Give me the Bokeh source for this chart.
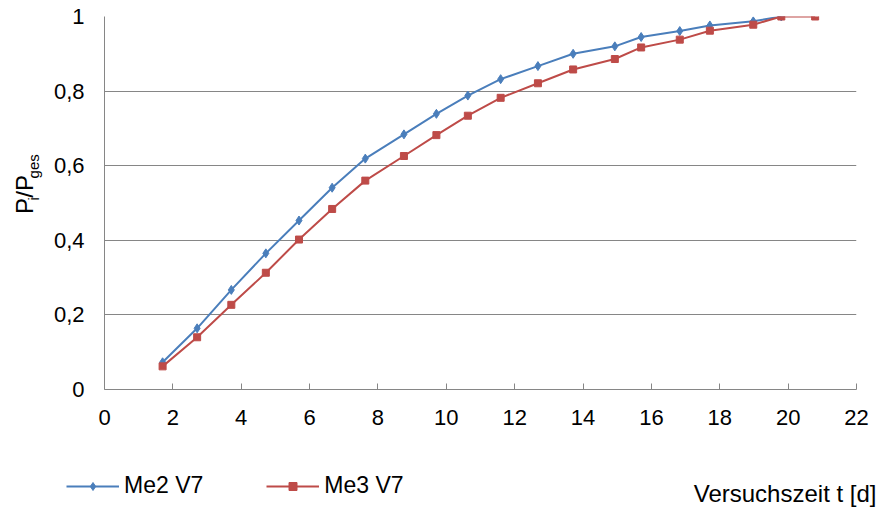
from math import pi
from bokeh.plotting import figure
from bokeh.layouts import row, column
from bokeh.models import (Range1d, FixedTicker, CustomJSTickFormatter, Label,
                          Legend, LegendItem, ColumnDataSource)
from bokeh.embed import file_html
from bokeh.resources import INLINE

# ---- data ----
t_me2 = [1.70, 2.71, 3.71, 4.72, 5.69, 6.66, 7.63, 8.76, 9.71, 10.63,
         11.59, 12.68, 13.71, 14.93, 15.70, 16.83, 17.71, 18.98, 19.80]
p_me2 = [0.073, 0.164, 0.267, 0.365, 0.453, 0.541, 0.619, 0.684, 0.739, 0.788,
         0.832, 0.867, 0.900, 0.920, 0.945, 0.961, 0.976, 0.987, 1.0]
t_me3 = [1.70, 2.71, 3.71, 4.72, 5.69, 6.66, 7.63, 8.76, 9.71, 10.63,
         11.59, 12.68, 13.71, 14.93, 15.70, 16.83, 17.71, 18.98, 19.80, 20.79]
p_me3 = [0.062, 0.140, 0.227, 0.313, 0.402, 0.484, 0.560, 0.626, 0.682, 0.734,
         0.782, 0.821, 0.858, 0.886, 0.917, 0.938, 0.962, 0.978, 1.0, 1.0]
series_names = ["Me2 V7", "Me3 V7"]
x_ticks = [0, 2, 4, 6, 8, 10, 12, 14, 16, 18, 20, 22]
y_ticks = [0, 0.2, 0.4, 0.6, 0.8, 1.0]
x_title = "Versuchszeit t [d]"

BLUE = "#4A7EBB"
RED = "#BE4B48"
GRAY = "#868686"
FONT = "Liberation Sans"

W, H = 877, 508
LW = 48          # left strip (y title)
TOP_H = 440      # height of main row
BOT_H = H - TOP_H


def bare(fig):
    fig.outline_line_color = None
    fig.min_border_left = fig.min_border_right = 0
    fig.min_border_top = fig.min_border_bottom = 0
    fig.background_fill_color = "white"
    fig.border_fill_color = "white"
    fig.grid.visible = False
    return fig


src2 = ColumnDataSource(dict(t=t_me2, p=p_me2))
src3 = ColumnDataSource(dict(t=t_me3, p=p_me3))


def draw_series(fig, **kw):
    r = []
    r.append(fig.line("t", "p", source=src2, line_color=BLUE, line_width=2, **kw))
    r.append(fig.scatter("t", "p", source=src2, marker="diamond", size=9,
                         fill_color=BLUE, line_color=BLUE, **kw))
    r.append(fig.line("t", "p", source=src3, line_color=RED, line_width=2, **kw))
    r.append(fig.scatter("t", "p", source=src3, marker="square", size=7,
                         fill_color=RED, line_color=RED, **kw))
    return r


# ---------------- main chart ----------------
p = figure(width=W - LW, height=TOP_H, output_backend="svg", toolbar_location=None,
           x_range=Range1d(0, 22), y_range=Range1d(0, 1),
           min_border_left=56, min_border_right=21, min_border_top=16,
           min_border_bottom=51)
p.outline_line_color = None
p.background_fill_color = "white"
p.border_fill_color = "white"

p.xgrid.grid_line_color = None
p.ygrid.grid_line_color = GRAY
p.ygrid.grid_line_width = 1
p.ygrid.ticker = FixedTicker(ticks=y_ticks)

fmt = CustomJSTickFormatter(code="return (Math.round(tick*10)/10).toString().replace('.', ',');")

xa = p.xaxis[0]
xa.ticker = FixedTicker(ticks=x_ticks)
xa.formatter = fmt
xa.axis_line_color = GRAY
xa.axis_line_width = 1
xa.major_tick_line_color = GRAY
xa.major_tick_in = 6
xa.major_tick_out = 0
xa.minor_tick_line_color = None
xa.major_label_text_font = FONT
xa.major_label_text_font_size = "22px"
xa.major_label_text_color = "black"
xa.major_label_standoff = 20

ya = p.yaxis[0]
ya.ticker = FixedTicker(ticks=y_ticks)
ya.formatter = fmt
ya.axis_line_color = GRAY
ya.axis_line_width = 1
ya.major_tick_line_color = None
ya.major_tick_in = 0
ya.major_tick_out = 0
ya.minor_tick_line_color = None
ya.major_label_text_font = FONT
ya.major_label_text_font_size = "22px"
ya.major_label_text_color = "black"
ya.major_label_standoff = 20

draw_series(p)

# ---------------- left strip: y title P_i/P_ges ----------------
yl = bare(figure(width=LW, height=TOP_H, output_backend="svg", toolbar_location=None,
                 x_range=Range1d(0, LW), y_range=Range1d(0, TOP_H),
                 x_axis_location=None, y_axis_location=None))
bx = 24
pieces = [("P", 24, 0.0, 0.667), ("i", 15, 9.0, 0.222), ("/P", 24, 0.0, 0.945),
          ("ges", 15, 9.0, 1.612)]
yy = TOP_H - 233.0
for txt, fs, dx, w in pieces:
    yl.add_layout(Label(x=bx + dx, y=yy, text=txt, angle=pi / 2,
                        text_align="left", text_baseline="alphabetic",
                        text_font=FONT, text_font_size=f"{fs}px",
                        text_color="black"))
    yy += w * fs

# ---------------- bottom strip: legend + x title ----------------
bt = bare(figure(width=W, height=BOT_H, output_backend="svg", toolbar_location=None,
                 x_range=Range1d(0, W), y_range=Range1d(0, BOT_H),
                 x_axis_location=None, y_axis_location=None))
# series copies on a range that keeps them out of view (used only for legend glyphs)
bt.extra_y_ranges = {"off": Range1d(10, 11)}
lg2, mg2, lg3, mg3 = draw_series(bt, y_range_name="off")
legend = Legend(items=[LegendItem(label=series_names[0], renderers=[lg2, mg2]),
                       LegendItem(label=series_names[1], renderers=[lg3, mg3])],
                orientation="horizontal", location=(66, 9),
                glyph_width=53, glyph_height=20, label_height=20,
                label_standoff=5, spacing=63, padding=0, margin=0,
                border_line_color=None, background_fill_alpha=0,
                label_text_font=FONT, label_text_font_size="23px",
                label_text_color="black")
bt.add_layout(legend, "center")
bt.add_layout(Label(x=876, y=15, text=x_title, text_align="right",
                    text_baseline="alphabetic", text_font=FONT,
                    text_font_size="24px", text_color="black"))

layout = column(row(yl, p), bt)
open("out.html", "w").write(file_html(layout, INLINE))
